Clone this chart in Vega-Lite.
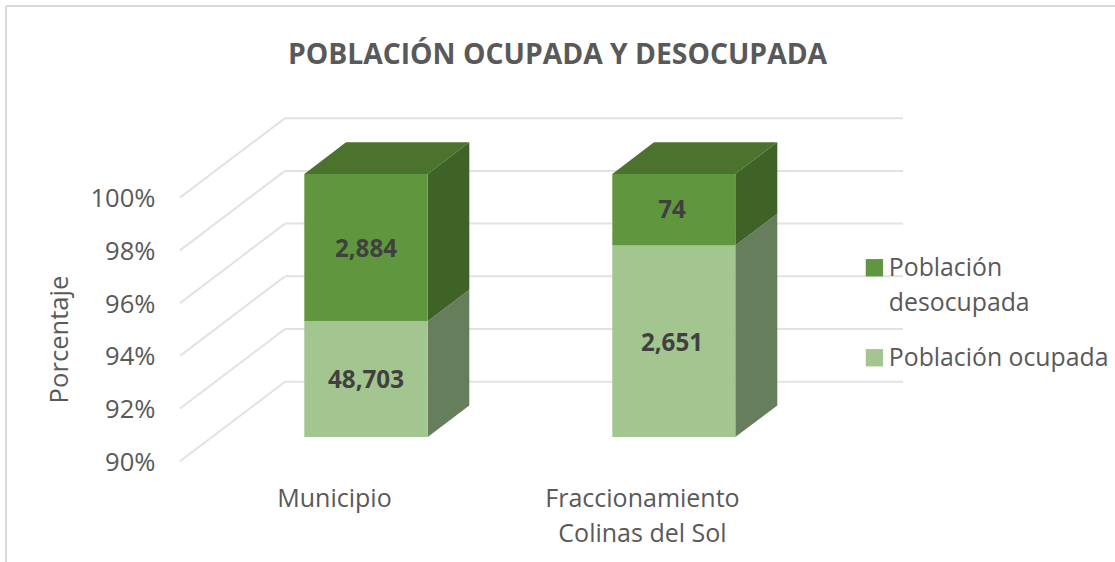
{
"$schema":"https://vega.github.io/schema/vega-lite/v6.json",
"width":1109,"height":556,
"autosize":{"type":"none"},
"padding":{"left":6,"top":6,"right":0,"bottom":0},
"background":"white",
"config":{"view":{"stroke":null},"font":"Open Sans","style":{"guide-label":{"lineHeight":35}}},
"title":{"text":"POBLACIÓN OCUPADA Y DESOCUPADA","fontSize":28.3,"fontWeight":"bold","color":"#595959","anchor":"middle","dx":-3,"offset":-65,"font":"Open Sans"},
"datasets":{
"marco":[{"x":-1.0649,"x2":2.5357,"y":107.27,"y2":107.27},{"x":-1.0649,"x2":-1.0649,"y":107.27,"y2":86.18}],
"rejilla":[
{"x":-0.5,"x2":-0.159,"y":90,"y2":93.016},{"x":-0.5,"x2":-0.159,"y":92,"y2":95.016},{"x":-0.5,"x2":-0.159,"y":94,"y2":97.016},{"x":-0.5,"x2":-0.159,"y":96,"y2":99.016},{"x":-0.5,"x2":-0.159,"y":98,"y2":101.016},{"x":-0.5,"x2":-0.159,"y":100,"y2":103.016},
{"x":-0.159,"x2":1.8474,"y":93.016,"y2":93.016},{"x":-0.159,"x2":1.8474,"y":95.016,"y2":95.016},{"x":-0.159,"x2":1.8474,"y":97.016,"y2":97.016},{"x":-0.159,"x2":1.8474,"y":99.016,"y2":99.016},{"x":-0.159,"x2":1.8474,"y":101.016,"y2":101.016},{"x":-0.159,"x2":1.8474,"y":103.016,"y2":103.016}],
"frente":[
{"categoria":"Municipio","serie":"Población ocupada","x":-0.0964,"x2":0.3042,"y":90.92,"y2":95.31},
{"categoria":"Municipio","serie":"Población desocupada","x":-0.0964,"x2":0.3042,"y":95.31,"y2":100.9},
{"categoria":"Fraccionamiento Colinas del Sol","serie":"Población ocupada","x":0.9036,"x2":1.3029,"y":90.92,"y2":98.19},
{"categoria":"Fraccionamiento Colinas del Sol","serie":"Población desocupada","x":0.9036,"x2":1.3029,"y":98.19,"y2":100.9}],
"ladoOcupada":[
{"categoria":"Municipio","x":0.3042,"y":90.92,"y2":95.31},{"categoria":"Municipio","x":0.4393,"y":92.12,"y2":96.51},
{"categoria":"Fraccionamiento","x":1.3029,"y":90.92,"y2":98.19},{"categoria":"Fraccionamiento","x":1.4393,"y":92.12,"y2":99.39}],
"ladoDesocupada":[
{"categoria":"Municipio","x":0.3042,"y":95.31,"y2":100.9},{"categoria":"Municipio","x":0.4393,"y":96.51,"y2":102.1},
{"categoria":"Fraccionamiento","x":1.3029,"y":98.19,"y2":100.9},{"categoria":"Fraccionamiento","x":1.4393,"y":99.39,"y2":102.1}],
"tapa":[
{"categoria":"Municipio","x":-0.0964,"x2":0.3042,"y":100.9},{"categoria":"Municipio","x":0.039,"x2":0.4393,"y":102.1},
{"categoria":"Fraccionamiento","x":0.9036,"x2":1.3029,"y":100.9},{"categoria":"Fraccionamiento","x":1.039,"x2":1.4393,"y":102.1}],
"etiquetas":[
{"x":0.1039,"y":98.02,"valor":"2,884"},{"x":0.1039,"y":93.05,"valor":"48,703"},{"x":1.0974,"y":99.5,"valor":"74"},{"x":1.0974,"y":94.46,"valor":"2,651"}]
},
"layer":[
{"data":{"name":"marco"},"mark":{"type":"rule","color":"#D9D9D9","strokeWidth":2},
"encoding":{
"x":{"field":"x","type":"quantitative","scale":{"domain":[-1.0649,2.5357],"nice":false,"zero":false},
"axis":{"orient":"bottom","title":null,"values":[0,1],"offset":-76,"domain":false,"ticks":false,"grid":false,"labelPadding":0,"labelFontSize":25,"labelLimit":400,"labelColor":"#595959","labelFont":"Open Sans","labelBaseline":"top","labelExpr":"datum.value==0?'Municipio':['Fraccionamiento','Colinas del Sol']"}},
"x2":{"field":"x2"},
"y":{"field":"y","type":"quantitative","scale":{"domain":[86.18,107.27],"nice":false,"zero":false},
"axis":{"orient":"left","title":"Porcentaje","values":[90,92,94,96,98,100],"offset":-149,"domain":false,"ticks":false,"grid":false,"labelPadding":0,"labelFontSize":25.6,"labelOffset":1,"labelColor":"#595959","labelFont":"Open Sans","labelExpr":"datum.value+'%'","titleFont":"Open Sans","titleFontSize":25.6,"titleFontWeight":"normal","titleColor":"#595959","titleX":-83,"titleY":333,"titleAngle":-90}},
"y2":{"field":"y2"}}},
{"data":{"name":"rejilla"},"mark":{"type":"rule","color":"#E2E2E2","strokeWidth":2},
"encoding":{"x":{"field":"x","type":"quantitative"},"x2":{"field":"x2"},"y":{"field":"y","type":"quantitative"},"y2":{"field":"y2"}}},
{"data":{"name":"tapa"},"mark":{"type":"area","orient":"horizontal","color":"#4C732E"},
"encoding":{"detail":{"field":"categoria"},"y":{"field":"y","type":"quantitative"},"x":{"field":"x","type":"quantitative"},"x2":{"field":"x2"}}},
{"data":{"name":"ladoOcupada"},"mark":{"type":"area","color":"#667E5C"},
"encoding":{"detail":{"field":"categoria"},"x":{"field":"x","type":"quantitative"},"y":{"field":"y","type":"quantitative"},"y2":{"field":"y2"}}},
{"data":{"name":"ladoDesocupada"},"mark":{"type":"area","color":"#3F6327"},
"encoding":{"detail":{"field":"categoria"},"x":{"field":"x","type":"quantitative"},"y":{"field":"y","type":"quantitative"},"y2":{"field":"y2"}}},
{"data":{"name":"frente"},"mark":{"type":"rect"},
"encoding":{"x":{"field":"x","type":"quantitative"},"x2":{"field":"x2"},"y":{"field":"y","type":"quantitative"},"y2":{"field":"y2"},
"color":{"field":"serie","type":"nominal","scale":{"domain":["Población desocupada","Población ocupada"],"range":["#5F963E","#A3C58F"]},
"legend":{"orient":"none","legendX":856,"legendY":258,"title":null,"symbolType":"M-1,-2H1V0H-1Z","symbolSize":300,"symbolStrokeWidth":0,"labelFont":"Open Sans","labelFontSize":24.8,"labelColor":"#595959","labelLimit":300,"rowPadding":29,"labelOffset":2,"labelBaseline":"alphabetic","labelExpr":"datum.label=='Población desocupada'?['Población','desocupada']:datum.label"}}}},
{"data":{"name":"etiquetas"},"mark":{"type":"text","fontWeight":"bold","fontSize":24.2,"color":"#404040","font":"Open Sans"},
"encoding":{"x":{"field":"x","type":"quantitative"},"y":{"field":"y","type":"quantitative"},"text":{"field":"valor","type":"nominal"}}}
]
}
